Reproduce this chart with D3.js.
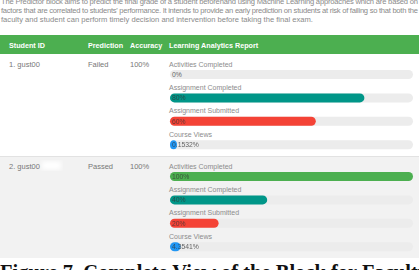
<!DOCTYPE html>
<html>
<head>
<meta charset="utf-8">
<script src="https://cdn.jsdelivr.net/npm/d3@7"></script>
<style>
  html, body { margin: 0; padding: 0; background: #fff; overflow: hidden; }
  svg { display: block; font-family: "Liberation Sans", Arial, sans-serif; }
</style>
</head>
<body>
<svg id="chart" width="419" height="270"></svg>
<script>
  // table content
  const introLines = [
    "The Predictor block aims to predict the final grade of a student beforehand using Machine Learning approaches which are based on",
    "factors that are correlated to students' performance. It intends to provide an early prediction on students at risk of failing so that both the",
    "faculty and student can perform timely decision and intervention before taking the final exam."
  ];
  const headers = ["Student ID", "Prediction", "Accuracy", "Learning Analytics Report"];
  const students = ["1. gust00", "2. gust00"];
  const predictions = ["Failed", "Passed"];
  const accuracies = ["100%", "100%"];
  const metrics = ["Activities Completed", "Assignment Completed", "Assignment Submitted", "Course Views"];
  const student1Values = [0, 80, 60, 0.1532];
  const student2Values = [100, 40, 20, 4.3541];
  const valueLabels1 = ["0%", "80%", "60%", "0.1532%"];
  const valueLabels2 = ["100%", "40%", "20%", "4.3541%"];
  const caption = "Figure 7. Complete View of the Block for Faculty";

  const svg = d3.select("#chart");
  const W = 419;

  const defs = svg.append("defs");
  defs.append("filter").attr("id", "blur").append("feGaussianBlur").attr("stdDeviation", 2);

  // intro paragraph
  svg.append("g")
    .selectAll("text")
    .data(introLines)
    .join("text")
    .attr("x", 1)
    .attr("y", (d, i) => 4 + i * 9)
    .attr("font-size", 7.6)
    .attr("fill", "#8a8a8a")
    .attr("textLength", (d, i) => (i < 2 ? 417 : null))
    .attr("lengthAdjust", "spacing")
    .text((d) => d);

  // header
  const colX = d3.scaleOrdinal().domain(headers).range([9, 88, 130, 169]);
  svg.append("rect").attr("x", 0).attr("y", 35).attr("width", W).attr("height", 19).attr("fill", "#4caf50");
  svg.append("g")
    .selectAll("text")
    .data(headers)
    .join("text")
    .attr("x", (d) => colX(d))
    .attr("y", 47.5)
    .attr("font-size", 7.2)
    .attr("font-weight", "bold")
    .attr("fill", "#fff")
    .text((d) => d);

  const rows = [
    { id: students[0], pred: predictions[0], acc: accuracies[0], values: student1Values, labels: valueLabels1 },
    { id: students[1], pred: predictions[1], acc: accuracies[1], values: student2Values, labels: valueLabels2 }
  ];
  const rowY = d3.scaleOrdinal().domain([0, 1]).range([54, 156]);
  const rowH = [101, 102];
  const barColor = d3.scaleOrdinal().domain(metrics).range(["#4caf50", "#009688", "#f44336", "#2196f3"]);
  const x = d3.scaleLinear().domain([0, 100]).range([170, 413]);
  const step = 23.4;
  const barH = 9;

  rows.forEach((row, r) => {
    const top = rowY(r);
    const g = svg.append("g");
    g.append("rect").attr("x", 0).attr("y", top).attr("width", W).attr("height", rowH[r])
      .attr("fill", r === 1 ? "#f2f2f2" : "#fff");
    if (r === 1) {
      g.append("line").attr("x1", 0).attr("x2", W).attr("y1", top + 0.5).attr("y2", top + 0.5)
        .attr("stroke", "#e2e2e2");
    }

    const textY = top + 12.5;
    g.append("text").attr("x", colX(headers[0])).attr("y", textY).attr("font-size", 7.5).attr("fill", "#777").text(row.id);
    g.append("rect").attr("x", 42).attr("y", textY - 7).attr("width", 19).attr("height", 8)
      .attr("fill", "#fff").attr("filter", "url(#blur)");
    g.append("text").attr("x", colX(headers[1])).attr("y", textY).attr("font-size", 7.5).attr("fill", "#777").text(row.pred);
    g.append("text").attr("x", colX(headers[2])).attr("y", textY).attr("font-size", 7.5).attr("fill", "#777").text(row.acc);

    metrics.forEach((m, i) => {
      const ly = top + 12.5 + i * step;
      const by = top + 16 + i * step;
      g.append("text").attr("x", colX(headers[3])).attr("y", ly).attr("font-size", 7).attr("fill", "#8c8c8c").text(m);
      g.append("rect").attr("x", x(0)).attr("y", by).attr("width", x(100) - x(0)).attr("height", barH)
        .attr("rx", barH / 2).attr("fill", "#ececec");
      const v = row.values[i];
      if (v > 0) {
        const w = Math.max(x(v) - x(0), 7);
        g.append("rect").attr("x", x(0)).attr("y", by).attr("width", w).attr("height", barH)
          .attr("rx", barH / 2).attr("fill", barColor(m));
      }
      g.append("text").attr("x", x(0) + 2).attr("y", by + 7).attr("font-size", 6.8)
        .attr("fill", v > 0 ? "#333" : "#666").attr("opacity", v > 0 ? 0.75 : 1).text(row.labels[i]);
    });
  });

  // caption
  svg.append("text")
    .attr("x", 0)
    .attr("y", 279)
    .attr("font-family", "'Liberation Serif', 'Times New Roman', serif")
    .attr("font-weight", "bold")
    .attr("font-size", 20.5)
    .attr("fill", "#111")
    .text(caption);
</script>
</body>
</html>
